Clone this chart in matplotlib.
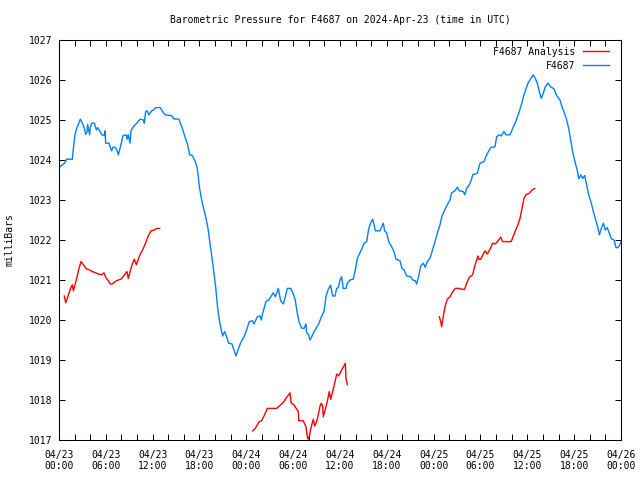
import numpy as np
import pandas as pd
import matplotlib
matplotlib.use("Agg")
import matplotlib.pyplot as plt
import matplotlib.dates as mdates

start = pd.Timestamp("2024-04-23 00:00")

# F4687 station pressure: hours since start, millibars
blue_h = [0.0, 0.13, 0.77, 0.98, 1.71, 1.84, 2.05, 2.26, 2.48, 2.73, 2.99, 3.25, 3.42, 3.59, 3.67, 3.8,
          3.93, 4.0, 4.19, 4.53, 4.79, 4.96, 5.21, 5.47, 5.81, 5.9, 5.98, 6.41, 6.58, 6.75, 6.92, 7.26,
          7.43, 7.6, 7.86, 8.2, 8.63, 8.71, 8.88, 9.1, 9.22, 9.52, 9.95, 10.38, 10.85, 10.93, 11.1, 11.27,
          11.53, 11.87, 12.13, 12.39, 12.98, 13.41, 13.58, 14.44, 14.69, 15.37, 15.54, 15.8, 16.14, 16.48,
          16.74, 17.08, 17.42, 17.68, 17.85, 17.98, 18.28, 18.58, 18.83, 19.09, 19.34, 19.56, 19.86, 20.11,
          20.28, 20.54, 20.79, 20.97, 21.22, 21.48, 21.74, 22.16, 22.42, 22.67, 22.93, 23.27, 23.7, 23.96,
          24.38, 24.81, 24.98, 25.41, 25.75, 25.92, 26.09, 26.52, 26.86, 27.12, 27.46, 27.71, 27.89, 28.1,
          28.4, 28.74, 28.99, 29.25, 29.68, 30.02, 30.27, 30.53, 30.78, 31.13, 31.39, 31.64, 31.73, 31.99,
          32.16, 32.5, 32.67, 32.92, 33.27, 33.61, 33.95, 34.2, 34.5, 34.8, 35.06, 35.36, 35.57, 35.79,
          36.0, 36.21, 36.42, 36.77, 36.94, 37.28, 37.7, 37.96, 38.22, 38.56, 38.82, 39.08, 39.42, 39.67,
          39.93, 40.19, 40.36, 40.52, 41.12, 41.38, 41.55, 41.72, 41.98, 42.24, 42.57, 42.92, 43.17, 43.69,
          43.94, 44.2, 44.54, 45.05, 45.31, 45.65, 45.82, 46.08, 46.34, 46.67, 46.93, 47.18, 47.53, 47.79,
          48.17, 48.47, 48.81, 49.07, 49.41, 49.74, 50.09, 50.3, 50.73, 51.03, 51.28, 51.8, 51.97, 52.23,
          52.57, 52.82, 53.0, 53.59, 53.93, 54.45, 54.79, 55.3, 55.85, 56.07, 56.41, 56.66, 57.0, 57.26,
          57.78, 58.12, 58.55, 58.97, 59.32, 59.57, 59.83, 60.08, 60.43, 60.76, 61.02, 61.28, 61.54, 61.79,
          62.05, 62.3, 62.65, 62.99, 63.41, 63.76, 64.18, 64.44, 64.69, 65.04, 65.3, 65.55, 65.81, 66.15,
          66.41, 66.59, 66.84, 67.09, 67.35, 67.6, 67.86, 68.2, 68.46, 68.71, 69.06, 69.23, 69.48, 69.74,
          69.99, 70.24, 70.5, 70.76, 71.1, 71.36, 71.62, 71.87, 72.0]
blue_p = [1023.8, 1023.83, 1023.93, 1024.02, 1024.02, 1024.29, 1024.63, 1024.79, 1024.89, 1025.02, 1024.92,
          1024.79, 1024.64, 1024.7, 1024.89, 1024.75, 1024.63, 1024.81, 1024.92, 1024.92, 1024.75, 1024.81,
          1024.73, 1024.63, 1024.61, 1024.73, 1024.42, 1024.42, 1024.31, 1024.23, 1024.32, 1024.31, 1024.23,
          1024.13, 1024.32, 1024.61, 1024.63, 1024.52, 1024.63, 1024.42, 1024.73, 1024.83, 1024.92, 1025.02,
          1025.0, 1024.92, 1025.21, 1025.23, 1025.13, 1025.23, 1025.25, 1025.31, 1025.31, 1025.17, 1025.13,
          1025.11, 1025.03, 1025.02, 1024.92, 1024.79, 1024.58, 1024.38, 1024.13, 1024.11, 1023.98, 1023.83,
          1023.58, 1023.33, 1023.0, 1022.75, 1022.54, 1022.29, 1021.92, 1021.58, 1021.17, 1020.75, 1020.38,
          1020.0, 1019.75, 1019.6, 1019.71, 1019.58, 1019.42, 1019.4, 1019.25, 1019.1, 1019.25, 1019.43,
          1019.58, 1019.71, 1019.96, 1019.98, 1019.9, 1020.08, 1020.1, 1020.0, 1020.17, 1020.46, 1020.5,
          1020.58, 1020.68, 1020.58, 1020.68, 1020.79, 1020.48, 1020.4, 1020.58, 1020.79, 1020.79, 1020.65,
          1020.5, 1020.17, 1019.93, 1019.79, 1019.79, 1019.9, 1019.68, 1019.63, 1019.5, 1019.63, 1019.71,
          1019.79, 1019.9, 1020.08, 1020.21, 1020.58, 1020.77, 1020.87, 1020.6, 1020.6, 1020.79, 1020.81,
          1021.0, 1021.08, 1020.79, 1020.79, 1020.92, 1021.0, 1021.02, 1021.25, 1021.54, 1021.68, 1021.79,
          1021.92, 1021.96, 1022.27, 1022.43, 1022.52, 1022.38, 1022.23, 1022.23, 1022.35, 1022.42, 1022.23,
          1022.18, 1021.96, 1021.85, 1021.71, 1021.52, 1021.48, 1021.29, 1021.25, 1021.1, 1021.08, 1021.0,
          1020.98, 1020.9, 1021.1, 1021.35, 1021.42, 1021.32, 1021.46, 1021.55, 1021.71, 1021.96, 1022.17,
          1022.38, 1022.6, 1022.75, 1022.88, 1023.0, 1023.18, 1023.23, 1023.32, 1023.23, 1023.21, 1023.13,
          1023.29, 1023.38, 1023.5, 1023.63, 1023.67, 1023.92, 1023.96, 1024.13, 1024.31, 1024.33, 1024.58,
          1024.63, 1024.6, 1024.71, 1024.63, 1024.63, 1024.79, 1024.98, 1025.21, 1025.44, 1025.63, 1025.78,
          1025.92, 1026.03, 1026.13, 1026.04, 1025.92, 1025.71, 1025.54, 1025.67, 1025.83, 1025.92, 1025.83,
          1025.78, 1025.61, 1025.5, 1025.33, 1025.21, 1025.0, 1024.79, 1024.5, 1024.21, 1023.92, 1023.73,
          1023.53, 1023.63, 1023.54, 1023.61, 1023.38, 1023.13, 1022.92, 1022.71, 1022.54, 1022.29, 1022.13,
          1022.29, 1022.42, 1022.25, 1022.31, 1022.17, 1022.03, 1022.0, 1021.81, 1021.81, 1021.89, 1021.95]

# F4687 Analysis: three runs
red1_h = [0.68, 0.86, 1.02, 1.28, 1.54, 1.71, 1.84, 2.05, 2.31, 2.56, 2.82, 3.07, 3.5, 3.93, 4.27, 4.7,
          5.04, 5.47, 5.76, 5.98, 6.32, 6.58, 6.83, 7.17, 7.6, 7.94, 8.28, 8.71, 8.88, 9.14, 9.39, 9.65,
          9.91, 10.16, 10.42, 10.76, 11.1, 11.44, 11.79, 12.21, 12.55, 12.9]
red1_p = [1020.6, 1020.43, 1020.52, 1020.67, 1020.82, 1020.88, 1020.73, 1020.88, 1021.08, 1021.29, 1021.46,
          1021.4, 1021.28, 1021.25, 1021.21, 1021.18, 1021.15, 1021.13, 1021.18, 1021.07, 1020.98, 1020.9,
          1020.9, 1020.96, 1021.0, 1021.02, 1021.1, 1021.21, 1021.04, 1021.23, 1021.4, 1021.52, 1021.38,
          1021.52, 1021.65, 1021.77, 1021.93, 1022.1, 1022.23, 1022.25, 1022.29, 1022.29]

red2_h = [24.81, 25.1, 25.41, 25.66, 25.96, 26.26, 26.52, 26.69, 27.89, 28.23, 28.53, 28.82, 29.17, 29.43,
          29.59, 29.76, 30.1, 30.45, 30.66, 30.71, 31.3, 31.64, 31.73, 31.9, 32.07, 32.25, 32.41, 32.58,
          32.76, 33.01, 33.27, 33.44, 33.61, 33.78, 33.86, 34.12, 34.37, 34.63, 34.81, 35.06, 35.32, 35.57,
          35.83, 36.0, 36.26, 36.51, 36.68, 36.77, 36.94]
red2_p = [1017.23, 1017.28, 1017.38, 1017.46, 1017.48, 1017.6, 1017.71, 1017.79, 1017.79, 1017.85, 1017.9,
          1017.96, 1018.07, 1018.13, 1018.18, 1017.92, 1017.88, 1017.77, 1017.71, 1017.48, 1017.48, 1017.33,
          1017.18, 1017.02, 1017.1, 1017.27, 1017.4, 1017.52, 1017.35, 1017.46, 1017.68, 1017.85, 1017.92,
          1017.85, 1017.58, 1017.77, 1017.96, 1018.21, 1018.02, 1018.21, 1018.42, 1018.65, 1018.6, 1018.67,
          1018.77, 1018.85, 1018.92, 1018.54, 1018.38]

red3_h = [48.72, 48.9, 49.03, 49.24, 49.45, 49.74, 50.09, 50.44, 50.77, 51.28, 51.46, 51.97, 52.23, 52.57,
          53.0, 53.26, 53.51, 53.68, 53.77, 54.03, 54.36, 54.61, 54.87, 55.22, 55.56, 55.89, 56.24, 56.59,
          56.84, 57.94, 58.2, 58.55, 58.8, 59.06, 59.32, 59.57, 59.83, 60.25, 60.6, 60.94]
red3_p = [1020.08, 1019.96, 1019.83, 1020.1, 1020.33, 1020.52, 1020.58, 1020.71, 1020.79, 1020.79, 1020.77,
          1020.77, 1020.92, 1021.07, 1021.13, 1021.35, 1021.5, 1021.6, 1021.52, 1021.52, 1021.65, 1021.73,
          1021.65, 1021.77, 1021.92, 1021.9, 1021.98, 1022.07, 1021.96, 1021.96, 1022.1, 1022.27, 1022.38,
          1022.54, 1022.79, 1023.04, 1023.13, 1023.17, 1023.25, 1023.29]


def to_time(hours):
    return start + pd.to_timedelta(hours, unit="h")


font = "DejaVu Sans Mono"
fs = 7
plt.rcParams["font.family"] = font
plt.rcParams["font.size"] = fs

fig = plt.figure(figsize=(6.4, 4.8), dpi=100)
ax = fig.add_axes([59 / 640, 40 / 480, 562 / 640, 400 / 480])

red = "#ff0000"
blue = "#0080ff"
lw = 1.0
ax.plot(to_time(red1_h), red1_p, color=red, lw=lw, label="F4687 Analysis")
ax.plot(to_time(red2_h), red2_p, color=red, lw=lw)
ax.plot(to_time(red3_h), red3_p, color=red, lw=lw)
ax.plot(to_time(blue_h), blue_p, color=blue, lw=lw, label="F4687")

ax.set_xlim(start, start + pd.Timedelta(hours=72))
ax.set_ylim(1017, 1027)
ax.set_yticks(np.arange(1017, 1028, 1))
ax.xaxis.set_major_locator(mdates.HourLocator(byhour=range(0, 24, 6)))
ax.xaxis.set_minor_locator(mdates.HourLocator(interval=2))
ax.xaxis.set_major_formatter(mdates.DateFormatter("%m/%d\n%H:%M"))

ax.tick_params(which="both", direction="in", top=True, right=True, length=4, width=0.75, labelsize=fs)
ax.tick_params(axis="x", pad=7)
ax.tick_params(axis="y", pad=5)
for s in ax.spines.values():
    s.set_linewidth(0.75)

fig.text(340 / 640, 1 - 20 / 480, "Barometric Pressure for F4687 on 2024-Apr-23 (time in UTC)",
         ha="center", va="center", fontsize=fs)
fig.text(10 / 640, 0.5, "milliBars", rotation=90, ha="center", va="center", fontsize=fs)

ax.legend(loc="upper right", bbox_to_anchor=(0.979, 0.983), frameon=False, markerfirst=False,
          handlelength=2.7, handletextpad=0.8, labelspacing=0.4, borderpad=0, borderaxespad=0,
          fontsize=fs)

fig.savefig("out.png", dpi=100)
